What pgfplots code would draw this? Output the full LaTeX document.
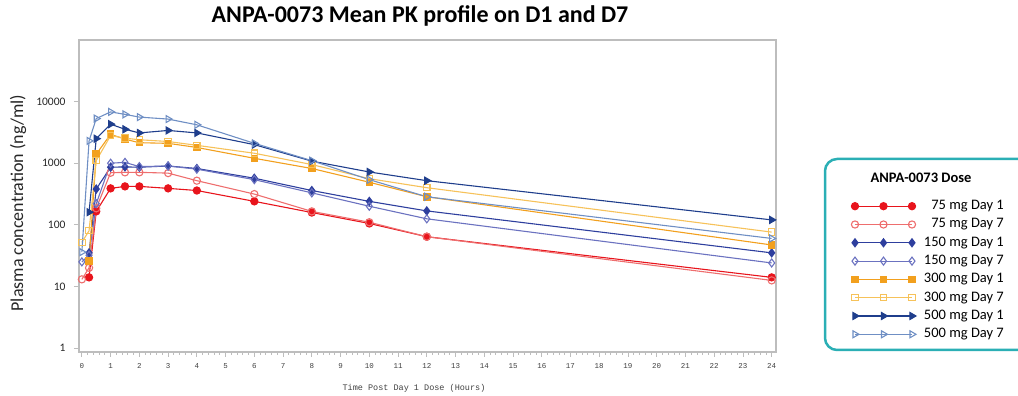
\documentclass[border=0pt]{standalone}
\usepackage{fontspec}
\setmainfont{Carlito}
\newfontfamily\monofont{Liberation Mono}
\usepackage{pgfplots}
\pgfplotsset{compat=1.18}
\definecolor{cA}{HTML}{E8141C}
\definecolor{cB}{HTML}{EE6E6E}
\definecolor{cC}{HTML}{2E3F9E}
\definecolor{cD}{HTML}{6B72C0}
\definecolor{cE}{HTML}{F2A01E}
\definecolor{cF}{HTML}{F6C25A}
\definecolor{cG}{HTML}{1F3E8C}
\definecolor{cH}{HTML}{6F8FC4}
\definecolor{frame}{HTML}{BDBDBD}
\definecolor{boxc}{HTML}{2BAFB5}
\begin{document}
\begin{tikzpicture}[x=1pt,y=1pt]
\useasboundingbox (0,0) rectangle (1018,396);
\begin{axis}[
  at={(79pt,44pt)}, anchor=south west,
  scale only axis, width=697pt, height=312pt,
  ymode=log, xmin=-0.1, xmax=24.15, ymin=0.86, ymax=100000,
  axis line style={frame, line width=1.4pt},
  tick style={frame, line width=0.8pt},
  tick align=outside, xtick pos=left, ytick pos=left,
  major tick length=5pt, minor tick length=3pt,
  xtick={0,1,2,3,4,5,6,7,8,9,10,11,12,13,14,15,16,17,18,19,20,21,22,23,24},
  xticklabels={0,1,2,3,4,5,6,7,8,9,10,11,12,13,14,15,16,17,18,19,20,21,22,23,24},
  minor x tick num=4,
  ytick={1,10,100,1000,10000},
  yticklabels={1,10,100,1000,10000},
  yminorticks=false,
  xticklabel style={font=\monofont\fontsize{7.5}{9}\selectfont, text=black!75, yshift=-3pt},
  yticklabel style={font=\fontsize{11.5}{13}\selectfont, text=black!85, xshift=-5pt},
  legend style={at={(1.3271,0.4888)}, anchor=north east, draw=none, fill=none,
    inner sep=0pt, font=\fontsize{14.5}{16}\selectfont, row sep=5.3pt, column sep=8pt,
    nodes={inner sep=0pt, text height=10pt, text depth=3pt}},
  legend cell align=right,
  legend image code/.code={\draw[#1, mark repeat=1, mark phase=1] plot coordinates {(0pt,0pt) (28.5pt,0pt) (57pt,0pt)};},
  every axis plot/.append style={line width=1.1pt},
]
\addplot[cA, mark=*, mark size=3.6pt] coordinates {(0.25,14) (0.5,165) (1,390) (1.5,420) (2,420) (3,390) (4,360) (6,240) (8,158) (10,105) (12,64) (24,14)};
\addlegendentry{75 mg Day 1}
\addplot[cB, mark=o, mark size=3.6pt, mark options={fill=white}] coordinates {(0,13) (0.25,20) (0.5,185) (1,700) (1.5,710) (2,710) (3,690) (4,520) (6,315) (8,165) (10,110) (12,64) (24,12.5)};
\addlegendentry{75 mg Day 7}
\addplot[cC, mark=diamond*, mark size=4pt] coordinates {(0.25,35) (0.5,380) (1,860) (1.5,870) (2,860) (3,900) (4,820) (6,570) (8,360) (10,240) (12,168) (24,35)};
\addlegendentry{150 mg Day 1}
\addplot[cD, mark=diamond, mark size=4pt, mark options={fill=white}] coordinates {(0,25) (0.25,32) (0.5,220) (1,1000) (1.5,1030) (2,880) (3,900) (4,800) (6,540) (8,330) (10,200) (12,125) (24,24)};
\addlegendentry{150 mg Day 7}
\addplot[cE, mark=square*, mark size=3.2pt] coordinates {(0.25,26) (0.5,1400) (1,2950) (1.5,2450) (2,2150) (3,2100) (4,1800) (6,1200) (8,820) (10,490) (12,285) (24,47)};
\addlegendentry{300 mg Day 1}
\addplot[cF, mark=square, mark size=3.2pt, mark options={fill=white}] coordinates {(0,52) (0.25,80) (0.5,1100) (1,2800) (1.5,2550) (2,2400) (3,2250) (4,1950) (6,1450) (8,950) (10,560) (12,400) (24,76)};
\addlegendentry{300 mg Day 7}
\addplot[cG, mark=triangle*, mark size=4pt, mark options={rotate=-90}] coordinates {(0.25,160) (0.5,2500) (1,4300) (1.5,3550) (2,3100) (3,3400) (4,3100) (6,2000) (8,1080) (10,720) (12,520) (24,120)};
\addlegendentry{500 mg Day 1}
\addplot[cH, mark=triangle, mark size=4pt, mark options={rotate=-90, fill=white}] coordinates {(0,36) (0.25,2300) (0.5,5300) (1,6800) (1.5,6200) (2,5600) (3,5200) (4,4200) (6,2100) (8,1100) (10,540) (12,285) (24,60)};
\addlegendentry{500 mg Day 7}
\end{axis}
\node[font=\bfseries\fontsize{24}{28}\selectfont] at (420,380) {ANPA-0073 Mean PK profile on D1 and D7};
\node[rotate=90, font=\fontsize{18}{21}\selectfont, text=black!85] at (18,193) {Plasma concentration (ng/ml)};
\node[font=\monofont\fontsize{8.5}{10}\selectfont, text=black!75] at (414,8) {Time Post Day 1 Dose (Hours)};
\draw[boxc, line width=2.5pt, rounded corners=12pt] (825,46) rectangle (1050,237);
\node[font=\bfseries\fontsize{14.5}{16}\selectfont] at (921,218) {ANPA-0073 Dose};
\end{tikzpicture}
\end{document}
